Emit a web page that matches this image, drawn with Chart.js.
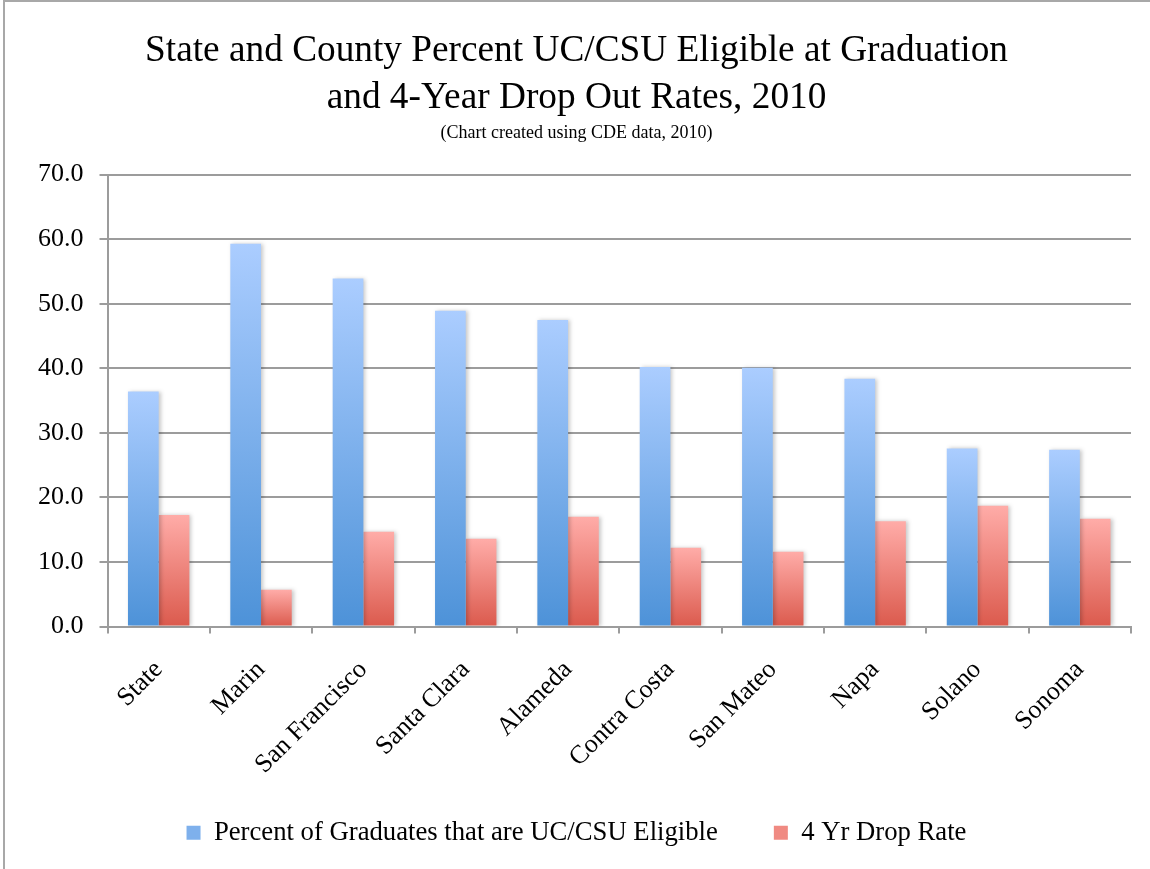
<!DOCTYPE html>
<html>
<head>
<meta charset="utf-8">
<script src="https://cdn.jsdelivr.net/npm/chart.js@4.4.1/dist/chart.umd.min.js"></script>
<style>
  html, body { margin: 0; padding: 0; background: #fff; }
  #wrap { position: relative; width: 1150px; height: 869px; }
  #frame { position: absolute; left: 3px; top: 0; width: 1147px; height: 869px;
           border-top: 2px solid #a8a8a8; border-left: 2px solid #a8a8a8; box-sizing: border-box; }
  canvas { position: absolute; left: 0; top: 0; }
</style>
</head>
<body>
<div id="wrap">
  <div id="frame"></div>
  <canvas id="chart" width="1150" height="869"></canvas>
</div>
<script>
  // data
  const counties = ['State', 'Marin', 'San Francisco', 'Santa Clara', 'Alameda',
                    'Contra Costa', 'San Mateo', 'Napa', 'Solano', 'Sonoma'];
  const eligible = [36.4, 59.3, 53.9, 48.9, 47.5, 40.2, 40.1, 38.4, 27.6, 27.4];
  const dropRate = [17.3, 5.7, 14.7, 13.6, 17.0, 12.2, 11.6, 16.3, 18.7, 16.7];
  const yTicks = [0, 10, 20, 30, 40, 50, 60, 70];

  const serif = "'Liberation Serif', 'Times New Roman', serif";
  const gridGray = '#9c9c9c';

  // each bar gets its own light-top / dark-bottom fill
  function barFill(light, dark) {
    return function (ctx) {
      const chart = ctx.chart;
      if (!chart.chartArea || !chart.scales.y || ctx.dataIndex === undefined) return dark;
      const v = ctx.raw;
      const top = chart.scales.y.getPixelForValue(v);
      const bottom = chart.scales.y.getPixelForValue(0);
      if (!isFinite(top) || !isFinite(bottom) || top === bottom) return dark;
      const g = chart.ctx.createLinearGradient(0, top, 0, bottom);
      g.addColorStop(0, light);
      g.addColorStop(1, dark);
      return g;
    };
  }

  const barShadow = {
    id: 'barShadow',
    beforeDatasetsDraw(chart) {
      const c = chart.ctx;
      c.save();
      c.shadowColor = 'rgba(0,0,0,0.22)';
      c.shadowBlur = 4;
      c.shadowOffsetX = 2;
      c.shadowOffsetY = 0;
    },
    afterDatasetsDraw(chart) {
      chart.ctx.restore();
    }
  };

  // the rotated category labels run into the legend's top padding; don't clip them
  const unclipTicks = {
    id: 'unclipTicks',
    afterLayout(chart) {
      chart.scales.x.bottom = chart.height;
    }
  };

  new Chart(document.getElementById('chart'), {
    type: 'bar',
    data: {
      labels: counties,
      datasets: [{
        label: 'Percent of Graduates that are UC/CSU Eligible',
        data: eligible,
        backgroundColor: barFill('#abcdff', '#4d92d8'),
        categoryPercentage: 0.6,
        barPercentage: 1.0
      }, {
        label: '4 Yr Drop Rate',
        data: dropRate,
        backgroundColor: barFill('#ffaca8', '#db5a4d'),
        categoryPercentage: 0.6,
        barPercentage: 1.0
      }]
    },
    plugins: [barShadow, unclipTicks],
    options: {
      responsive: false,
      animation: false,
      layout: { padding: { top: 28, left: 22, right: 19, bottom: 13 } },
      plugins: {
        title: {
          display: true,
          text: ['State and County Percent UC/CSU Eligible at Graduation',
                 'and 4-Year Drop Out Rates, 2010'],
          color: '#000',
          font: { family: serif, size: 37.3, weight: 'normal', lineHeight: 1.26 },
          padding: { top: 0, bottom: 0 }
        },
        subtitle: {
          display: true,
          text: '(Chart created using CDE data, 2010)',
          color: '#000',
          font: { family: serif, size: 18, weight: 'normal' },
          padding: { top: 0, bottom: 31 }
        },
        legend: {
          position: 'bottom',
          labels: {
            color: '#000',
            font: { family: serif, size: 26.7 },
            boxWidth: 14,
            boxHeight: 14,
            padding: 56,
            generateLabels(chart) {
              const fills = ['#7eb0ec', '#f08a82'];
              return chart.data.datasets.map((ds, i) => ({
                text: ds.label,
                fillStyle: fills[i],
                strokeStyle: fills[i],
                lineWidth: 0,
                datasetIndex: i
              }));
            }
          }
        },
        tooltip: { enabled: false }
      },
      scales: {
        x: {
          grid: { offset: true, drawOnChartArea: false, drawTicks: true, tickLength: 7,
                  color: gridGray, lineWidth: 2 },
          border: { color: gridGray, width: 2 },
          ticks: {
            color: '#000',
            font: { family: serif, size: 26 },
            minRotation: 45, maxRotation: 45,
            padding: 21
          },
          afterFit(scale) { scale.height -= 38; }
        },
        y: {
          min: 0, max: 70,
          afterBuildTicks(axis) { axis.ticks = yTicks.map(v => ({ value: v })); },
          grid: { color: gridGray, lineWidth: 2, drawTicks: true, tickLength: 8 },
          border: { color: gridGray, width: 2 },
          ticks: {
            color: '#000',
            font: { family: serif, size: 26 },
            padding: 16,
            callback: v => v.toFixed(1)
          }
        }
      }
    }
  });
</script>
</body>
</html>
